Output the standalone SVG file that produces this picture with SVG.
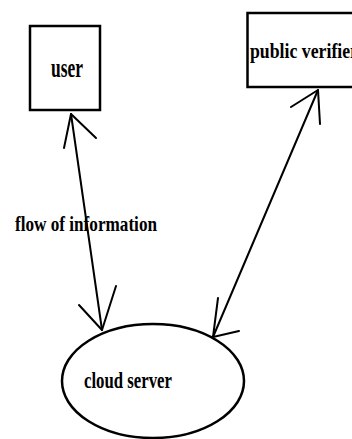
<svg xmlns="http://www.w3.org/2000/svg" width="352" height="439" viewBox="0 0 352 439">
<style>
.box{fill:#fff;stroke:#000;stroke-width:2.5}
.lbl{font-family:"Liberation Serif","Times New Roman",serif;font-weight:bold;fill:#000}
.ln{stroke:#000;stroke-width:2;fill:none;stroke-linecap:round;stroke-linejoin:round}
</style>
<rect width="352" height="439" fill="#fff"/>
<g id="connectors">
<path class="ln" d="M71,114 L102,330"/>
<path class="ln" d="M64,148 L71,114 L96,138"/>
<path class="ln" d="M79,305 L102,330 L116,286"/>
<path class="ln" d="M318,90 L213,337"/>
<path class="ln" d="M291,107 L318,90 L320,124"/>
<path class="ln" d="M218,298 L213,337 L239,331"/>
<text class="lbl" x="15" y="231" font-size="22" textLength="142" lengthAdjust="spacingAndGlyphs">flow of information</text>
</g>
<g id="user">
<rect class="box" x="30" y="26" width="70" height="84"/>
<text class="lbl" x="51" y="76.5" font-size="27" textLength="32" lengthAdjust="spacingAndGlyphs">user</text>
</g>
<g id="public-verifier">
<rect class="box" x="247.5" y="13" width="115" height="74"/>
<text class="lbl" x="250" y="57.5" font-size="21" textLength="108" lengthAdjust="spacingAndGlyphs">public verifier</text>
</g>
<g id="cloud-server">
<ellipse class="box" cx="153" cy="381" rx="91" ry="57"/>
<text class="lbl" x="84" y="387.5" font-size="24" textLength="88" lengthAdjust="spacingAndGlyphs">cloud server</text>
</g>
</svg>
